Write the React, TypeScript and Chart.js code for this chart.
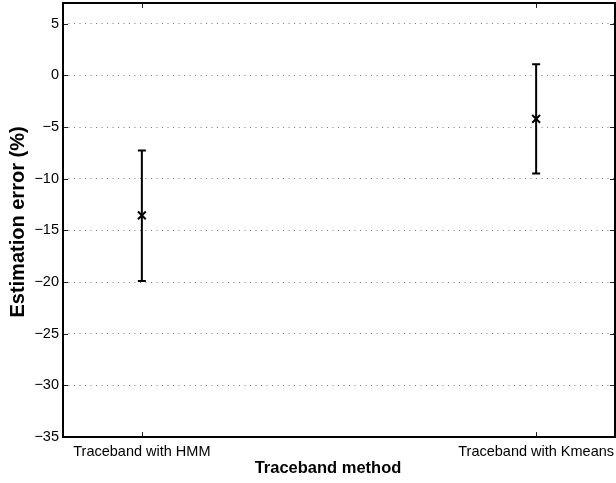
import React, { useEffect, useRef } from "react";
import { Chart, registerables } from "chart.js";

Chart.register(...registerables);

const CATEGORIES = ["Traceband with HMM", "Traceband with Kmeans"];
const X_POSITIONS = [1, 2];
const MEANS = [-13.55, -4.22];
const UPPER = [-7.27, 1.07];
const LOWER = [-19.9, -9.5];
const Y_TICKS = [-35, -30, -25, -20, -15, -10, -5, 0, 5];
const X_MIN = 0.8;
const X_MAX = 2.2;
const Y_MIN = -35;
const Y_MAX = 7;
const X_TITLE = "Traceband method";
const Y_TITLE = "Estimation error (%)";

const FONT = "'Liberation Sans', Arial, Helvetica, sans-serif";

const fmt = (v: number) => (v < 0 ? "\u2212" + Math.abs(v) : String(v));

const decorPlugin = {
  id: "decor",
  beforeDatasetsDraw(chart: any) {
    const { ctx, scales } = chart;
    const xs = scales.x;
    const ys = scales.y;
    ctx.save();
    ctx.strokeStyle = "#000";
    ctx.lineWidth = 2;
    ctx.lineCap = "butt";
    const cap = 4;
    for (let i = 0; i < X_POSITIONS.length; i++) {
      const x = xs.getPixelForValue(X_POSITIONS[i]);
      const yHi = ys.getPixelForValue(UPPER[i]);
      const yLo = ys.getPixelForValue(LOWER[i]);
      ctx.beginPath();
      ctx.moveTo(x, yHi);
      ctx.lineTo(x, yLo);
      ctx.moveTo(x - cap, yHi);
      ctx.lineTo(x + cap, yHi);
      ctx.moveTo(x - cap, yLo);
      ctx.lineTo(x + cap, yLo);
      ctx.stroke();
    }
    ctx.restore();
  },
  afterDraw(chart: any) {
    const { ctx, chartArea: a, scales } = chart;
    const xs = scales.x;
    const ys = scales.y;
    ctx.save();
    ctx.strokeStyle = "#222";
    ctx.lineWidth = 1;
    const tl = 5;
    ctx.beginPath();
    for (const t of Y_TICKS) {
      const y = Math.round(ys.getPixelForValue(t)) + 0.5;
      ctx.moveTo(a.left, y);
      ctx.lineTo(a.left + tl, y);
      ctx.moveTo(a.right, y);
      ctx.lineTo(a.right - tl, y);
    }
    for (const p of X_POSITIONS) {
      const x = Math.round(xs.getPixelForValue(p)) + 0.5;
      ctx.moveTo(x, a.bottom);
      ctx.lineTo(x, a.bottom - tl);
      ctx.moveTo(x, a.top);
      ctx.lineTo(x, a.top + tl);
    }
    ctx.stroke();
    ctx.strokeStyle = "#000";
    ctx.lineWidth = 2;
    ctx.strokeRect(a.left, a.top, a.right - a.left, a.bottom - a.top);
    ctx.fillStyle = "#000";
    ctx.textAlign = "center";
    ctx.textBaseline = "middle";
    ctx.font = "bold 16.5px " + FONT;
    ctx.fillText(X_TITLE, 328, 468);
    ctx.translate(18, 222);
    ctx.rotate(-Math.PI / 2);
    ctx.font = "bold 20px " + FONT;
    ctx.fillText(Y_TITLE, 0, 0);
    ctx.restore();
  },
};

export default function App() {
  const ref = useRef<HTMLCanvasElement | null>(null);
  useEffect(() => {
    document.body.style.margin = "0";
    const canvas = ref.current!;
    const chart = new Chart(canvas, {
      type: "scatter",
      data: {
        datasets: [
          {
            data: X_POSITIONS.map((x, i) => ({ x, y: MEANS[i] })),
            pointStyle: "crossRot",
            pointRadius: 5.5,
            pointBorderWidth: 2,
            borderColor: "#000",
            backgroundColor: "#000",
          },
        ],
      },
      options: {
        animation: false,
        responsive: false,
        layout: { autoPadding: false, padding: { top: 3, right: 1, left: 0, bottom: 0 } },
        plugins: { legend: { display: false }, tooltip: { enabled: false } },
        scales: {
          x: {
            type: "linear",
            min: X_MIN,
            max: X_MAX,
            afterBuildTicks: (s: any) => {
              s.ticks = X_POSITIONS.map((v) => ({ value: v }));
            },
            afterFit: (s: any) => {
              s.height = 46;
              s.paddingLeft = 0;
              s.paddingRight = 0;
            },
            ticks: {
              callback: (v: any) => CATEGORIES[X_POSITIONS.indexOf(Number(v))] ?? "",
              font: { family: FONT, size: 14.5 },
              color: "#000",
              padding: 6,
              maxRotation: 0,
              autoSkip: false,
            },
            grid: { display: false, drawTicks: false },
            border: { display: false },
          },
          y: {
            type: "linear",
            min: Y_MIN,
            max: Y_MAX,
            afterBuildTicks: (s: any) => {
              s.ticks = Y_TICKS.map((v) => ({ value: v }));
            },
            afterFit: (s: any) => {
              s.width = 63;
              s.paddingTop = 0;
              s.paddingBottom = 0;
            },
            ticks: {
              callback: (v: any) => fmt(Number(v)),
              font: { family: FONT, size: 14.5 },
              color: "#000",
              padding: 4,
            },
            grid: { display: true, drawTicks: false, color: "#7a7a7a", lineWidth: 1 },
            border: { display: false, dash: [1, 4.5] },
          },
        },
      },
      plugins: [decorPlugin],
    });
    return () => chart.destroy();
  }, []);
  return (
    <div style={{ width: 616, height: 483, position: "relative" }}>
      <canvas ref={ref} width={616} height={483} style={{ display: "block" }} />
    </div>
  );
}
